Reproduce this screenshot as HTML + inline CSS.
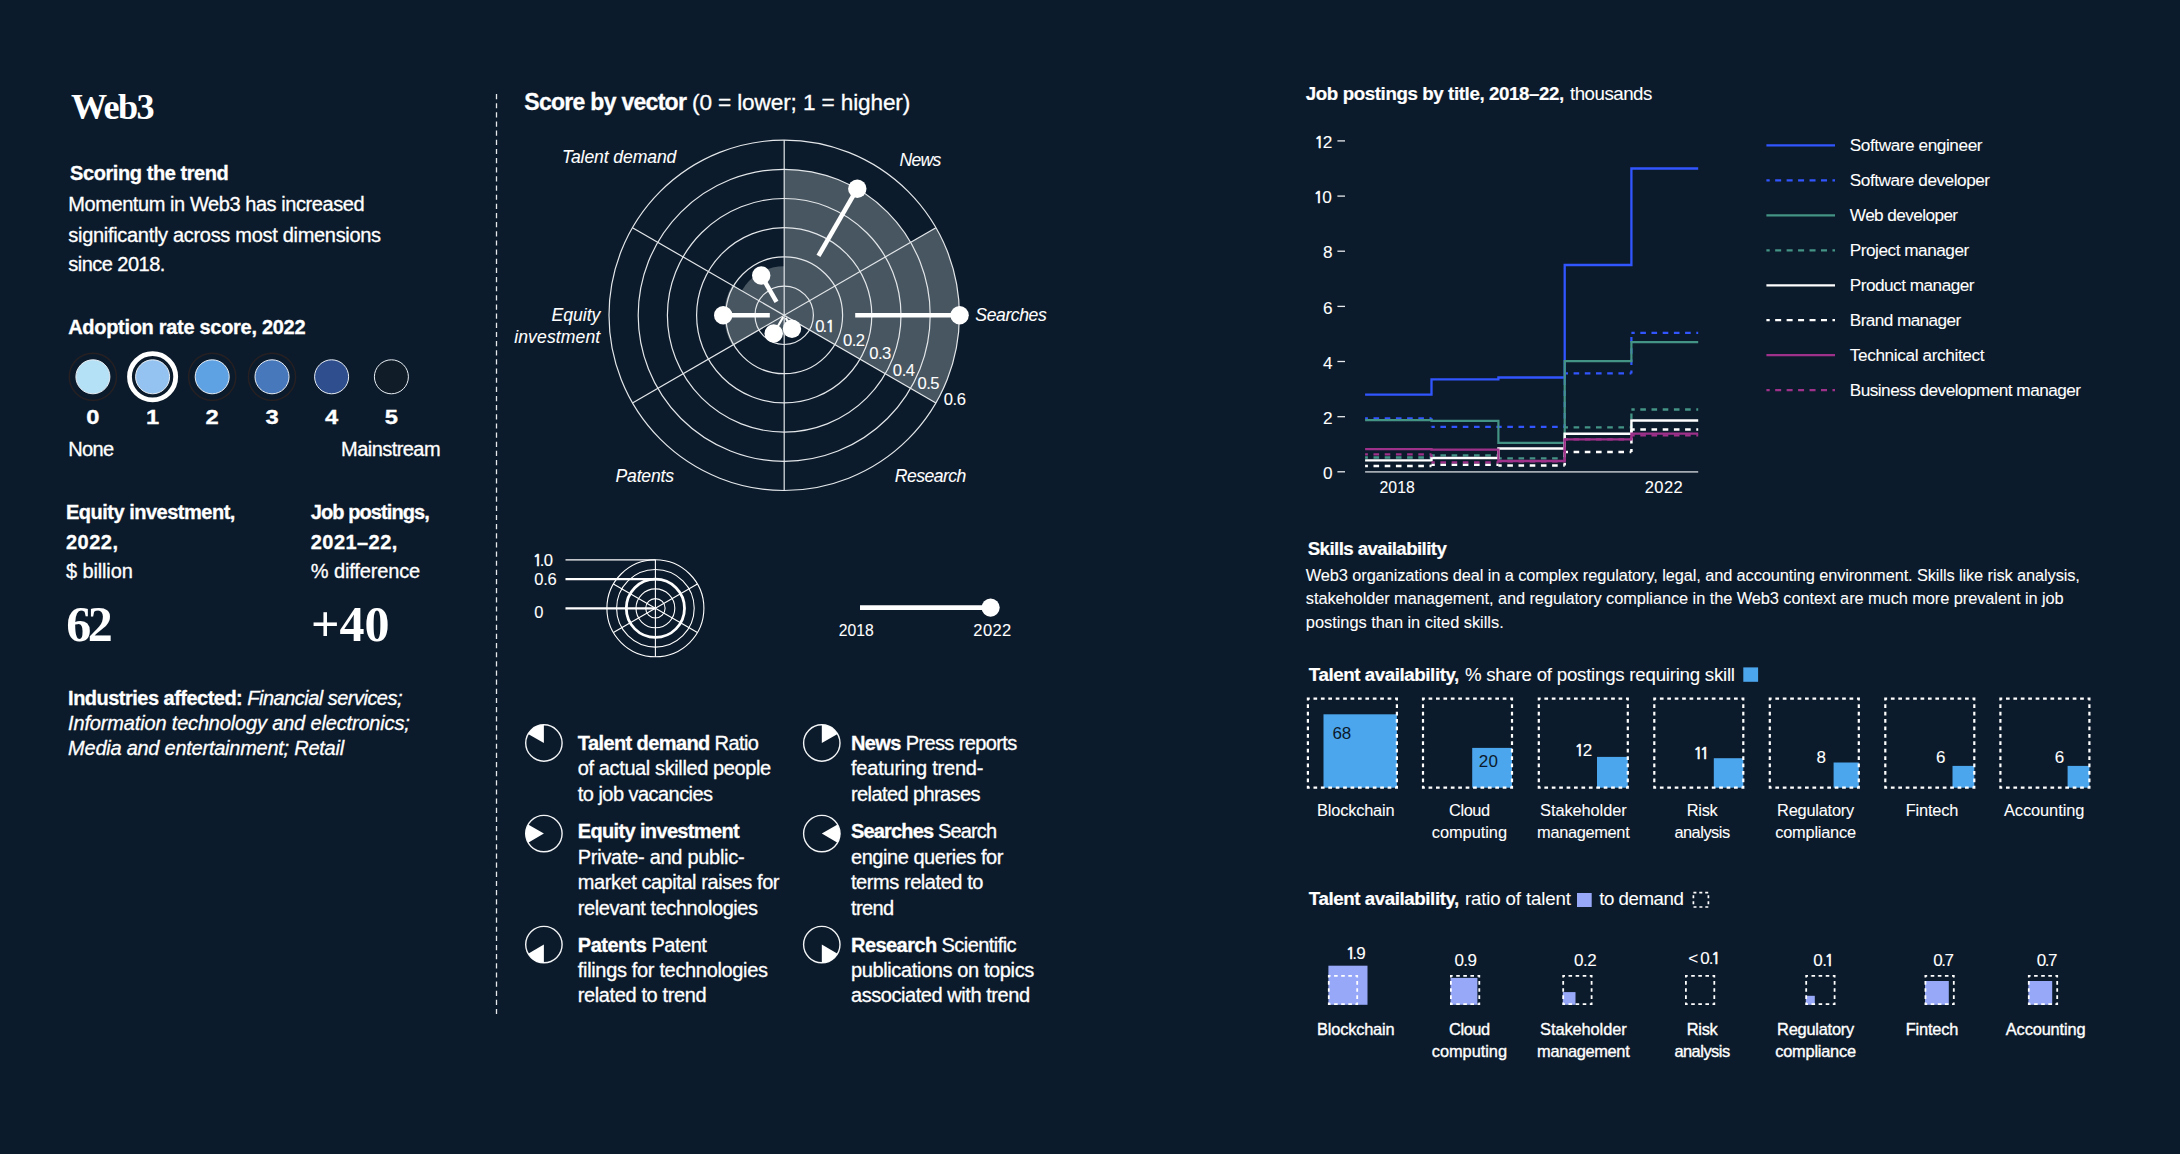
<!DOCTYPE html>
<html lang="en"><head><meta charset="utf-8"><title>Web3</title>
<style>
html,body{margin:0;padding:0;background:#0c1b2b;}
body{width:2180px;height:1154px;overflow:hidden;font-family:"Liberation Sans",sans-serif;}
svg{display:block}
</style></head><body>
<svg width="2180" height="1154" viewBox="0 0 2180 1154">
<rect width="2180" height="1154" fill="#0c1b2b"/>
<g fill="#fff">
<text x="71.0" y="118.5" font-family='"Liberation Serif", serif' font-size="36.2" font-weight="700" textLength="83.5" lengthAdjust="spacing">Web3</text>
<text x="70.1" y="180.0" font-family='"Liberation Sans", sans-serif' font-size="20" font-weight="700" textLength="158.7" lengthAdjust="spacing" stroke="#fff" stroke-width="0.3">Scoring the trend</text>
<text x="68.3" y="211.1" font-family='"Liberation Sans", sans-serif' font-size="20" font-weight="400" textLength="296.3" lengthAdjust="spacing" stroke="#fff" stroke-width="0.3">Momentum in Web3 has increased</text>
<text x="68.3" y="242.1" font-family='"Liberation Sans", sans-serif' font-size="20" font-weight="400" textLength="312.8" lengthAdjust="spacing" stroke="#fff" stroke-width="0.3">significantly across most dimensions</text>
<text x="68.3" y="271.0" font-family='"Liberation Sans", sans-serif' font-size="20" font-weight="400" textLength="97.0" lengthAdjust="spacing" stroke="#fff" stroke-width="0.3">since 2018.</text>
<text x="68.2" y="333.9" font-family='"Liberation Sans", sans-serif' font-size="20" font-weight="700" textLength="237.3" lengthAdjust="spacing" stroke="#fff" stroke-width="0.3">Adoption rate score, 2022</text>
<circle cx="92.9" cy="376.8" r="23.6" fill="none" stroke="#262022" stroke-width="1.4"/>
<circle cx="92.9" cy="376.8" r="17.0" fill="#b4e1f5" stroke="#e8eef5" stroke-width="1"/>
<text x="86.3" y="424.3" font-family='"Liberation Sans", sans-serif' font-size="19.6" font-weight="700" textLength="13.2" lengthAdjust="spacingAndGlyphs" stroke="#fff" stroke-width="0.3">0</text>
<circle cx="152.6" cy="376.8" r="23.1" fill="none" stroke="#fff" stroke-width="4.8"/>
<circle cx="152.6" cy="376.8" r="17.0" fill="#94c3f2" stroke="#e8eef5" stroke-width="1"/>
<text x="146.0" y="424.3" font-family='"Liberation Sans", sans-serif' font-size="19.6" font-weight="700" textLength="13.2" lengthAdjust="spacingAndGlyphs" stroke="#fff" stroke-width="0.3">1</text>
<circle cx="212.2" cy="376.8" r="23.6" fill="none" stroke="#262022" stroke-width="1.4"/>
<circle cx="212.2" cy="376.8" r="17.0" fill="#5ea2e4" stroke="#e8eef5" stroke-width="1"/>
<text x="205.6" y="424.3" font-family='"Liberation Sans", sans-serif' font-size="19.6" font-weight="700" textLength="13.2" lengthAdjust="spacingAndGlyphs" stroke="#fff" stroke-width="0.3">2</text>
<circle cx="272.0" cy="376.8" r="23.6" fill="none" stroke="#262022" stroke-width="1.4"/>
<circle cx="272.0" cy="376.8" r="17.0" fill="#4878bc" stroke="#e8eef5" stroke-width="1"/>
<text x="265.4" y="424.3" font-family='"Liberation Sans", sans-serif' font-size="19.6" font-weight="700" textLength="13.2" lengthAdjust="spacingAndGlyphs" stroke="#fff" stroke-width="0.3">3</text>
<circle cx="331.6" cy="376.8" r="17.0" fill="#2e4e8e" stroke="#e8eef5" stroke-width="1"/>
<text x="325.0" y="424.3" font-family='"Liberation Sans", sans-serif' font-size="19.6" font-weight="700" textLength="13.2" lengthAdjust="spacingAndGlyphs" stroke="#fff" stroke-width="0.3">4</text>
<circle cx="391.4" cy="376.8" r="17.0" fill="#101d28" stroke="#e8eef5" stroke-width="1"/>
<text x="384.8" y="424.3" font-family='"Liberation Sans", sans-serif' font-size="19.6" font-weight="700" textLength="13.2" lengthAdjust="spacingAndGlyphs" stroke="#fff" stroke-width="0.3">5</text>
<text x="68.3" y="456.1" font-family='"Liberation Sans", sans-serif' font-size="20" font-weight="400" textLength="45.8" lengthAdjust="spacing" stroke="#fff" stroke-width="0.3">None</text>
<text x="341.1" y="456.1" font-family='"Liberation Sans", sans-serif' font-size="20" font-weight="400" textLength="99.5" lengthAdjust="spacing" stroke="#fff" stroke-width="0.3">Mainstream</text>
<text x="66.0" y="518.5" font-family='"Liberation Sans", sans-serif' font-size="20" font-weight="700" textLength="169.4" lengthAdjust="spacing" stroke="#fff" stroke-width="0.3">Equity investment,</text>
<text x="66.0" y="548.9" font-family='"Liberation Sans", sans-serif' font-size="20" font-weight="700" textLength="52.0" lengthAdjust="spacing" stroke="#fff" stroke-width="0.3">2022,</text>
<text x="66.0" y="578.2" font-family='"Liberation Sans", sans-serif' font-size="20" font-weight="400" textLength="66.8" lengthAdjust="spacing" stroke="#fff" stroke-width="0.3">$ billion</text>
<text x="66.3" y="641.1" font-family='"Liberation Serif", serif' font-size="50" font-weight="700" textLength="46.5" lengthAdjust="spacing">62</text>
<text x="310.8" y="518.5" font-family='"Liberation Sans", sans-serif' font-size="20" font-weight="700" textLength="119.0" lengthAdjust="spacing" stroke="#fff" stroke-width="0.3">Job postings,</text>
<text x="310.8" y="548.9" font-family='"Liberation Sans", sans-serif' font-size="20" font-weight="700" textLength="86.5" lengthAdjust="spacing" stroke="#fff" stroke-width="0.3">2021–22,</text>
<text x="310.8" y="578.2" font-family='"Liberation Sans", sans-serif' font-size="20" font-weight="400" textLength="109.4" lengthAdjust="spacing" stroke="#fff" stroke-width="0.3">% difference</text>
<text x="311.0" y="641.1" font-family='"Liberation Serif", serif' font-size="50" font-weight="700" textLength="78.5" lengthAdjust="spacing">+40</text>
<text x="68.1" y="704.5" font-family='"Liberation Sans", sans-serif' font-size="20" xml:space="preserve" stroke="#fff" stroke-width="0.3" textLength="334.4" lengthAdjust="spacing"><tspan font-weight="700" font-style="normal">Industries affected: </tspan><tspan font-weight="400" font-style="italic">Financial services;</tspan></text>
<text x="68.1" y="729.6" font-family='"Liberation Sans", sans-serif' font-size="20" font-weight="400" font-style="italic" textLength="341.7" lengthAdjust="spacing" stroke="#fff" stroke-width="0.3">Information technology and electronics;</text>
<text x="68.1" y="754.7" font-family='"Liberation Sans", sans-serif' font-size="20" font-weight="400" font-style="italic" textLength="276.0" lengthAdjust="spacing" stroke="#fff" stroke-width="0.3">Media and entertainment; Retail</text>
<line x1="496.5" y1="94" x2="496.5" y2="1014" stroke="#e6e9ec" stroke-width="1.3" stroke-dasharray="5.2 3.95"/>
<text x="524.3" y="109.9" font-family='"Liberation Sans", sans-serif' font-size="23" font-weight="700" textLength="162.6" lengthAdjust="spacing" stroke="#fff" stroke-width="0.3">Score by vector</text>
<text x="692.0" y="109.9" font-family='"Liberation Sans", sans-serif' font-size="22.6" font-weight="400" textLength="218.3" lengthAdjust="spacing" stroke="#fff" stroke-width="0.3">(0 = lower; 1 = higher)</text>
<path d="M784.20 315.30L910.64 242.30A146.00 146.00 0 0 0 784.20 169.30Z" fill="#485661"/>
<path d="M784.20 315.30L935.93 402.90A175.20 175.20 0 0 0 935.93 227.70Z" fill="#485661"/>
<path d="M784.20 315.30L784.20 266.30A49.00 49.00 0 0 0 741.76 290.80Z" fill="#485661"/>
<path d="M784.20 315.30L732.24 285.30A60.00 60.00 0 0 0 732.24 345.30Z" fill="#485661"/>
<path d="M784.20 315.30L766.88 325.30A20.00 20.00 0 0 0 784.20 335.30Z" fill="#485661"/>
<path d="M784.20 315.30L784.20 330.30A15.00 15.00 0 0 0 797.19 322.80Z" fill="#485661"/>
<circle cx="784.2" cy="315.3" r="29.20" fill="none" stroke="#e3e7ea" stroke-width="1.2"/>
<circle cx="784.2" cy="315.3" r="58.40" fill="none" stroke="#e3e7ea" stroke-width="1.2"/>
<circle cx="784.2" cy="315.3" r="87.60" fill="none" stroke="#e3e7ea" stroke-width="1.2"/>
<circle cx="784.2" cy="315.3" r="116.80" fill="none" stroke="#e3e7ea" stroke-width="1.2"/>
<circle cx="784.2" cy="315.3" r="146.00" fill="none" stroke="#e3e7ea" stroke-width="1.2"/>
<circle cx="784.2" cy="315.3" r="175.20" fill="none" stroke="#e3e7ea" stroke-width="1.2"/>
<line x1="784.20" y1="140.10" x2="784.20" y2="490.50" stroke="#e3e7ea" stroke-width="1.2"/>
<line x1="935.93" y1="227.70" x2="632.47" y2="402.90" stroke="#e3e7ea" stroke-width="1.2"/>
<line x1="935.93" y1="402.90" x2="632.47" y2="227.70" stroke="#e3e7ea" stroke-width="1.2"/>
<line x1="818.45" y1="255.98" x2="857.30" y2="188.69" stroke="#fff" stroke-width="4.5"/>
<circle cx="857.30" cy="188.69" r="9.2" fill="#fff"/>
<line x1="855.20" y1="315.30" x2="959.60" y2="315.30" stroke="#fff" stroke-width="4.5"/>
<circle cx="959.60" cy="315.30" r="9.2" fill="#fff"/>
<line x1="776.50" y1="301.96" x2="761.20" y2="275.46" stroke="#fff" stroke-width="4.5"/>
<circle cx="761.20" cy="275.46" r="9.2" fill="#fff"/>
<line x1="769.80" y1="315.30" x2="723.20" y2="315.30" stroke="#fff" stroke-width="4.5"/>
<circle cx="723.20" cy="315.30" r="9.2" fill="#fff"/>
<line x1="783.20" y1="317.03" x2="773.70" y2="333.49" stroke="#fff" stroke-width="2.2"/>
<circle cx="773.70" cy="333.49" r="9.2" fill="#fff"/>
<line x1="785.70" y1="317.90" x2="792.00" y2="328.81" stroke="#fff" stroke-width="2.2"/>
<circle cx="792.00" cy="328.81" r="9.2" fill="#fff"/>
<text y="331.7" font-size="16.6" font-family='"Liberation Sans", sans-serif' stroke="#fff" stroke-width="0.1"><tspan x="815.15">0</tspan><tspan x="822.38">.</tspan><tspan x="825.38" font-family='"NanumGothic", "Liberation Sans", sans-serif' font-size="15.60" stroke-width="0.7">1</tspan></text>
<text x="842.9" y="345.5" font-family='"Liberation Sans", sans-serif' font-size="16.6" font-weight="400" textLength="22.1" lengthAdjust="spacing" stroke="#fff" stroke-width="0.08">0.2</text>
<text x="869.2" y="359.2" font-family='"Liberation Sans", sans-serif' font-size="16.6" font-weight="400" textLength="22.0" lengthAdjust="spacing" stroke="#fff" stroke-width="0.08">0.3</text>
<text x="892.8" y="375.9" font-family='"Liberation Sans", sans-serif' font-size="16.6" font-weight="400" textLength="22.3" lengthAdjust="spacing" stroke="#fff" stroke-width="0.08">0.4</text>
<text x="917.5" y="389.3" font-family='"Liberation Sans", sans-serif' font-size="16.6" font-weight="400" textLength="22.0" lengthAdjust="spacing" stroke="#fff" stroke-width="0.08">0.5</text>
<text x="943.7" y="404.5" font-family='"Liberation Sans", sans-serif' font-size="16.6" font-weight="400" textLength="22.3" lengthAdjust="spacing" stroke="#fff" stroke-width="0.08">0.6</text>
<text x="561.9" y="163.0" font-family='"Liberation Sans", sans-serif' font-size="17.6" font-weight="400" font-style="italic" textLength="114.5" lengthAdjust="spacing" stroke="#fff" stroke-width="0.08">Talent demand</text>
<text x="899.4" y="165.9" font-family='"Liberation Sans", sans-serif' font-size="17.6" font-weight="400" font-style="italic" textLength="42.0" lengthAdjust="spacing" stroke="#fff" stroke-width="0.08">News</text>
<text x="975.3" y="321.3" font-family='"Liberation Sans", sans-serif' font-size="17.6" font-weight="400" font-style="italic" textLength="71.5" lengthAdjust="spacing" stroke="#fff" stroke-width="0.08">Searches</text>
<text x="894.7" y="482.1" font-family='"Liberation Sans", sans-serif' font-size="17.6" font-weight="400" font-style="italic" textLength="71.7" lengthAdjust="spacing" stroke="#fff" stroke-width="0.08">Research</text>
<text x="615.5" y="482.1" font-family='"Liberation Sans", sans-serif' font-size="17.6" font-weight="400" font-style="italic" textLength="58.5" lengthAdjust="spacing" stroke="#fff" stroke-width="0.08">Patents</text>
<text x="551.6" y="320.7" font-family='"Liberation Sans", sans-serif' font-size="17.6" font-weight="400" font-style="italic" textLength="48.7" lengthAdjust="spacing" stroke="#fff" stroke-width="0.08">Equity</text>
<text x="514.2" y="342.9" font-family='"Liberation Sans", sans-serif' font-size="17.6" font-weight="400" font-style="italic" textLength="86.0" lengthAdjust="spacing" stroke="#fff" stroke-width="0.08">investment</text>
<circle cx="655.4" cy="608.3" r="9.7" fill="none" stroke="#fff" stroke-width="1.1"/>
<circle cx="655.4" cy="608.3" r="19.4" fill="none" stroke="#fff" stroke-width="1.1"/>
<circle cx="655.4" cy="608.3" r="29.1" fill="none" stroke="#fff" stroke-width="2.8"/>
<circle cx="655.4" cy="608.3" r="38.8" fill="none" stroke="#fff" stroke-width="1.1"/>
<circle cx="655.4" cy="608.3" r="48.5" fill="none" stroke="#fff" stroke-width="1.1"/>
<line x1="655.40" y1="559.80" x2="655.40" y2="656.80" stroke="#fff" stroke-width="1.1"/>
<line x1="697.40" y1="584.05" x2="613.40" y2="632.55" stroke="#fff" stroke-width="1.1"/>
<line x1="697.40" y1="632.55" x2="613.40" y2="584.05" stroke="#fff" stroke-width="1.1"/>
<line x1="565.5" y1="559.8" x2="655.4" y2="559.8" stroke="#fff" stroke-width="1.2"/>
<line x1="565.5" y1="579.2" x2="655.4" y2="579.2" stroke="#fff" stroke-width="2.2"/>
<line x1="565.5" y1="608.3" x2="655.4" y2="608.3" stroke="#fff" stroke-width="2.2"/>
<text y="566.0" font-size="16.6" font-family='"Liberation Sans", sans-serif' stroke="#fff" stroke-width="0.1"><tspan x="532.78" font-family='"NanumGothic", "Liberation Sans", sans-serif' font-size="15.60" stroke-width="0.7">1</tspan><tspan x="539.78">.</tspan><tspan x="543.75">0</tspan></text>
<text x="534.2" y="585.2" font-family='"Liberation Sans", sans-serif' font-size="16.5" font-weight="400" textLength="22.5" lengthAdjust="spacing" stroke="#fff" stroke-width="0.08">0.6</text>
<text x="534.2" y="617.8" font-family='"Liberation Sans", sans-serif' font-size="16.5" font-weight="400" stroke="#fff" stroke-width="0.08">0</text>
<line x1="860" y1="607.6" x2="990.6" y2="607.6" stroke="#fff" stroke-width="4.6"/>
<circle cx="990.6" cy="607.6" r="9.1" fill="#fff"/>
<text x="838.8" y="636.0" font-family='"Liberation Sans", sans-serif' font-size="16.5" font-weight="400" textLength="35.0" lengthAdjust="spacingAndGlyphs" stroke="#fff" stroke-width="0.08">2018</text>
<text x="973.3" y="636.0" font-family='"Liberation Sans", sans-serif' font-size="16.5" font-weight="400" textLength="38.0" lengthAdjust="spacing" stroke="#fff" stroke-width="0.08">2022</text>
<circle cx="543.9" cy="743.0" r="18.2" fill="none" stroke="#f2f4f6" stroke-width="1.4"/>
<path d="M543.90 743.00L543.90 724.80A18.20 18.20 0 0 0 528.14 733.90Z" fill="#fff"/>
<circle cx="543.9" cy="833.6" r="18.2" fill="none" stroke="#f2f4f6" stroke-width="1.4"/>
<path d="M543.90 833.60L528.14 824.50A18.20 18.20 0 0 0 528.14 842.70Z" fill="#fff"/>
<circle cx="543.9" cy="944.6" r="18.2" fill="none" stroke="#f2f4f6" stroke-width="1.4"/>
<path d="M543.90 944.60L528.14 953.70A18.20 18.20 0 0 0 543.90 962.80Z" fill="#fff"/>
<circle cx="821.8" cy="743.0" r="18.2" fill="none" stroke="#f2f4f6" stroke-width="1.4"/>
<path d="M821.80 743.00L837.56 733.90A18.20 18.20 0 0 0 821.80 724.80Z" fill="#fff"/>
<circle cx="821.8" cy="833.6" r="18.2" fill="none" stroke="#f2f4f6" stroke-width="1.4"/>
<path d="M821.80 833.60L837.56 842.70A18.20 18.20 0 0 0 837.56 824.50Z" fill="#fff"/>
<circle cx="821.8" cy="944.6" r="18.2" fill="none" stroke="#f2f4f6" stroke-width="1.4"/>
<path d="M821.80 944.60L821.80 962.80A18.20 18.20 0 0 0 837.56 953.70Z" fill="#fff"/>
<text x="577.8" y="750.1" font-family='"Liberation Sans", sans-serif' font-size="20" xml:space="preserve" stroke="#fff" stroke-width="0.3" textLength="181.1" lengthAdjust="spacing"><tspan font-weight="700" font-style="normal">Talent demand </tspan><tspan font-weight="400" font-style="normal">Ratio</tspan></text>
<text x="577.8" y="775.2" font-family='"Liberation Sans", sans-serif' font-size="20" font-weight="400" textLength="193.4" lengthAdjust="spacing" stroke="#fff" stroke-width="0.3">of actual skilled people</text>
<text x="577.8" y="801.0" font-family='"Liberation Sans", sans-serif' font-size="20" font-weight="400" textLength="135.3" lengthAdjust="spacing" stroke="#fff" stroke-width="0.3">to job vacancies</text>
<text x="577.8" y="837.9" font-family='"Liberation Sans", sans-serif' font-size="20" font-weight="700" textLength="161.9" lengthAdjust="spacing" stroke="#fff" stroke-width="0.3">Equity investment</text>
<text x="577.8" y="863.9" font-family='"Liberation Sans", sans-serif' font-size="20" font-weight="400" textLength="166.8" lengthAdjust="spacing" stroke="#fff" stroke-width="0.3">Private- and public-</text>
<text x="577.8" y="889.4" font-family='"Liberation Sans", sans-serif' font-size="20" font-weight="400" textLength="201.7" lengthAdjust="spacing" stroke="#fff" stroke-width="0.3">market capital raises for</text>
<text x="577.8" y="914.5" font-family='"Liberation Sans", sans-serif' font-size="20" font-weight="400" textLength="180.2" lengthAdjust="spacing" stroke="#fff" stroke-width="0.3">relevant technologies</text>
<text x="577.8" y="951.7" font-family='"Liberation Sans", sans-serif' font-size="20" xml:space="preserve" stroke="#fff" stroke-width="0.3" textLength="129.0" lengthAdjust="spacing"><tspan font-weight="700" font-style="normal">Patents </tspan><tspan font-weight="400" font-style="normal">Patent</tspan></text>
<text x="577.8" y="976.9" font-family='"Liberation Sans", sans-serif' font-size="20" font-weight="400" textLength="190.2" lengthAdjust="spacing" stroke="#fff" stroke-width="0.3">filings for technologies</text>
<text x="577.8" y="1002.3" font-family='"Liberation Sans", sans-serif' font-size="20" font-weight="400" textLength="128.7" lengthAdjust="spacing" stroke="#fff" stroke-width="0.3">related to trend</text>
<text x="851.0" y="750.1" font-family='"Liberation Sans", sans-serif' font-size="20" xml:space="preserve" stroke="#fff" stroke-width="0.3" textLength="166.2" lengthAdjust="spacing"><tspan font-weight="700" font-style="normal">News </tspan><tspan font-weight="400" font-style="normal">Press reports</tspan></text>
<text x="851.0" y="775.2" font-family='"Liberation Sans", sans-serif' font-size="20" font-weight="400" textLength="132.4" lengthAdjust="spacing" stroke="#fff" stroke-width="0.3">featuring trend-</text>
<text x="851.0" y="801.0" font-family='"Liberation Sans", sans-serif' font-size="20" font-weight="400" textLength="129.5" lengthAdjust="spacing" stroke="#fff" stroke-width="0.3">related phrases</text>
<text x="851.0" y="837.9" font-family='"Liberation Sans", sans-serif' font-size="20" xml:space="preserve" stroke="#fff" stroke-width="0.3" textLength="146.1" lengthAdjust="spacing"><tspan font-weight="700" font-style="normal">Searches </tspan><tspan font-weight="400" font-style="normal">Search</tspan></text>
<text x="851.0" y="863.9" font-family='"Liberation Sans", sans-serif' font-size="20" font-weight="400" textLength="152.4" lengthAdjust="spacing" stroke="#fff" stroke-width="0.3">engine queries for</text>
<text x="851.0" y="889.4" font-family='"Liberation Sans", sans-serif' font-size="20" font-weight="400" textLength="132.4" lengthAdjust="spacing" stroke="#fff" stroke-width="0.3">terms related to</text>
<text x="851.0" y="914.5" font-family='"Liberation Sans", sans-serif' font-size="20" font-weight="400" textLength="43.2" lengthAdjust="spacing" stroke="#fff" stroke-width="0.3">trend</text>
<text x="851.0" y="951.7" font-family='"Liberation Sans", sans-serif' font-size="20" xml:space="preserve" stroke="#fff" stroke-width="0.3" textLength="165.6" lengthAdjust="spacing"><tspan font-weight="700" font-style="normal">Research </tspan><tspan font-weight="400" font-style="normal">Scientific</tspan></text>
<text x="851.0" y="976.9" font-family='"Liberation Sans", sans-serif' font-size="20" font-weight="400" textLength="183.3" lengthAdjust="spacing" stroke="#fff" stroke-width="0.3">publications on topics</text>
<text x="851.0" y="1002.3" font-family='"Liberation Sans", sans-serif' font-size="20" font-weight="400" textLength="179.0" lengthAdjust="spacing" stroke="#fff" stroke-width="0.3">associated with trend</text>
<text x="1305.8" y="100.3" font-family='"Liberation Sans", sans-serif' font-size="18.7" font-weight="700" textLength="258.5" lengthAdjust="spacing" stroke="#fff" stroke-width="0.2">Job postings by title, 2018–22,</text>
<text x="1570.0" y="100.3" font-family='"Liberation Sans", sans-serif' font-size="18.7" font-weight="400" textLength="82.3" lengthAdjust="spacing" stroke="#fff" stroke-width="0.08">thousands</text>
<line x1="1337.4" y1="471.8" x2="1345" y2="471.8" stroke="#e8ebee" stroke-width="1.3"/>
<text x="1332.6" y="478.9" font-family='"Liberation Sans", sans-serif' font-size="17.2" font-weight="400" text-anchor="end" stroke="#fff" stroke-width="0.08">0</text>
<line x1="1337.4" y1="416.7" x2="1345" y2="416.7" stroke="#e8ebee" stroke-width="1.3"/>
<text x="1332.6" y="423.8" font-family='"Liberation Sans", sans-serif' font-size="17.2" font-weight="400" text-anchor="end" stroke="#fff" stroke-width="0.08">2</text>
<line x1="1337.4" y1="361.5" x2="1345" y2="361.5" stroke="#e8ebee" stroke-width="1.3"/>
<text x="1332.6" y="368.6" font-family='"Liberation Sans", sans-serif' font-size="17.2" font-weight="400" text-anchor="end" stroke="#fff" stroke-width="0.08">4</text>
<line x1="1337.4" y1="306.4" x2="1345" y2="306.4" stroke="#e8ebee" stroke-width="1.3"/>
<text x="1332.6" y="313.5" font-family='"Liberation Sans", sans-serif' font-size="17.2" font-weight="400" text-anchor="end" stroke="#fff" stroke-width="0.08">6</text>
<line x1="1337.4" y1="251.2" x2="1345" y2="251.2" stroke="#e8ebee" stroke-width="1.3"/>
<text x="1332.6" y="258.3" font-family='"Liberation Sans", sans-serif' font-size="17.2" font-weight="400" text-anchor="end" stroke="#fff" stroke-width="0.08">8</text>
<line x1="1337.4" y1="196.1" x2="1345" y2="196.1" stroke="#e8ebee" stroke-width="1.3"/>
<text y="203.2" font-size="17.2" font-family='"Liberation Sans", sans-serif' stroke="#fff" stroke-width="0.1"><tspan x="1313.60" font-family='"NanumGothic", "Liberation Sans", sans-serif' font-size="16.17" stroke-width="0.7">1</tspan><tspan x="1322.13">0</tspan></text>
<line x1="1337.4" y1="140.9" x2="1345" y2="140.9" stroke="#e8ebee" stroke-width="1.3"/>
<text y="148.0" font-size="17.2" font-family='"Liberation Sans", sans-serif' stroke="#fff" stroke-width="0.1"><tspan x="1314.30" font-family='"NanumGothic", "Liberation Sans", sans-serif' font-size="16.17" stroke-width="0.7">1</tspan><tspan x="1322.63">2</tspan></text>
<line x1="1365.1" y1="471.8" x2="1698.2" y2="471.8" stroke="#a4abb3" stroke-width="1.7"/>
<text x="1379.6" y="493.3" font-family='"Liberation Sans", sans-serif' font-size="16.5" font-weight="400" textLength="35.1" lengthAdjust="spacingAndGlyphs" stroke="#fff" stroke-width="0.08">2018</text>
<text x="1644.7" y="493.3" font-family='"Liberation Sans", sans-serif' font-size="16.5" font-weight="400" textLength="38.1" lengthAdjust="spacing" stroke="#fff" stroke-width="0.08">2022</text>
<path d="M1365.1 394.6H1431.5V379.4H1498.4V377.5H1564.7V265.0H1631.4V168.5H1698.2" fill="none" stroke="#3156ff" stroke-width="2.3"/>
<g fill="none" stroke="#3156ff" stroke-width="2.2" stroke-dasharray="5.6 5.6">
<path d="M1365.1 418.3H1431.5" stroke-dashoffset="2.8"/>
<path d="M1431.5 418.3V426.9" stroke-dashoffset="2.8"/>
<path d="M1431.5 426.9H1498.4" stroke-dashoffset="2.3"/>
<path d="M1498.4 426.9V426.9" stroke-dashoffset="2.8"/>
<path d="M1498.4 426.9H1564.7" stroke-dashoffset="2.3"/>
<path d="M1564.7 426.9V373.4" stroke-dashoffset="2.8"/>
<path d="M1564.7 373.4H1631.4" stroke-dashoffset="2.3"/>
<path d="M1631.4 373.4V332.8" stroke-dashoffset="2.8"/>
<path d="M1631.4 332.8H1698.2" stroke-dashoffset="2.3"/>
</g>
<path d="M1365.1 420.2H1431.5V420.9H1498.4V442.8H1564.7V361.2H1631.4V342.2H1698.2" fill="none" stroke="#449486" stroke-width="2.2"/>
<g fill="none" stroke="#449486" stroke-width="2.3" stroke-dasharray="5.6 5.6">
<path d="M1365.1 457.5H1431.5" stroke-dashoffset="2.8"/>
<path d="M1431.5 457.5V455.3" stroke-dashoffset="2.8"/>
<path d="M1431.5 455.3H1498.4" stroke-dashoffset="2.3"/>
<path d="M1498.4 455.3V458.3" stroke-dashoffset="2.8"/>
<path d="M1498.4 458.3H1564.7" stroke-dashoffset="2.3"/>
<path d="M1564.7 458.3V427.4" stroke-dashoffset="2.8"/>
<path d="M1564.7 427.4H1631.4" stroke-dashoffset="2.3"/>
<path d="M1631.4 427.4V409.5" stroke-dashoffset="2.8"/>
<path d="M1631.4 409.5H1698.2" stroke-dashoffset="2.3"/>
</g>
<path d="M1365.1 460.4H1431.5V458.0H1498.4V448.5H1564.7V433.7H1631.4V420.5H1698.2" fill="none" stroke="#fff" stroke-width="2.4"/>
<g fill="none" stroke="#fff" stroke-width="2.5" stroke-dasharray="5.6 5.6">
<path d="M1365.1 465.9H1431.5" stroke-dashoffset="2.8"/>
<path d="M1431.5 465.9V464.7" stroke-dashoffset="2.8"/>
<path d="M1431.5 464.7H1498.4" stroke-dashoffset="2.3"/>
<path d="M1498.4 464.7V465.5" stroke-dashoffset="2.8"/>
<path d="M1498.4 465.5H1564.7" stroke-dashoffset="2.3"/>
<path d="M1564.7 465.5V451.9" stroke-dashoffset="2.8"/>
<path d="M1564.7 451.9H1631.4" stroke-dashoffset="2.3"/>
<path d="M1631.4 451.9V429.6" stroke-dashoffset="2.8"/>
<path d="M1631.4 429.6H1698.2" stroke-dashoffset="2.3"/>
</g>
<path d="M1365.1 449.1H1431.5V449.7H1498.4V461.0H1564.7V439.3H1631.4V433.7H1698.2" fill="none" stroke="#9e318a" stroke-width="2.3"/>
<g fill="none" stroke="#9e318a" stroke-width="2.3" stroke-dasharray="5.6 5.6">
<path d="M1365.1 454.4H1431.5" stroke-dashoffset="2.8"/>
<path d="M1431.5 454.4V462.3" stroke-dashoffset="2.8"/>
<path d="M1431.5 462.3H1498.4" stroke-dashoffset="2.3"/>
<path d="M1498.4 462.3V461.3" stroke-dashoffset="2.8"/>
<path d="M1498.4 461.3H1564.7" stroke-dashoffset="2.3"/>
<path d="M1564.7 461.3V439.3" stroke-dashoffset="2.8"/>
<path d="M1564.7 439.3H1631.4" stroke-dashoffset="2.3"/>
<path d="M1631.4 439.3V435.4" stroke-dashoffset="2.8"/>
<path d="M1631.4 435.4H1698.2" stroke-dashoffset="2.3"/>
</g>
<line x1="1766.4" y1="145.4" x2="1835" y2="145.4" stroke="#3156ff" stroke-width="2.3"/>
<text x="1849.8" y="150.8" font-family='"Liberation Sans", sans-serif' font-size="17.2" font-weight="400" textLength="132.7" lengthAdjust="spacing" stroke="#fff" stroke-width="0.08">Software engineer</text>
<line x1="1766.4" y1="180.4" x2="1835" y2="180.4" stroke="#3156ff" stroke-width="2.3" stroke-dasharray="6 5.46" stroke-dashoffset="2.7"/>
<text x="1849.8" y="185.8" font-family='"Liberation Sans", sans-serif' font-size="17.2" font-weight="400" textLength="140.3" lengthAdjust="spacing" stroke="#fff" stroke-width="0.08">Software developer</text>
<line x1="1766.4" y1="215.3" x2="1835" y2="215.3" stroke="#449486" stroke-width="2.3"/>
<text x="1849.8" y="220.7" font-family='"Liberation Sans", sans-serif' font-size="17.2" font-weight="400" textLength="108.3" lengthAdjust="spacing" stroke="#fff" stroke-width="0.08">Web developer</text>
<line x1="1766.4" y1="250.3" x2="1835" y2="250.3" stroke="#449486" stroke-width="2.3" stroke-dasharray="6 5.46" stroke-dashoffset="2.7"/>
<text x="1849.8" y="255.7" font-family='"Liberation Sans", sans-serif' font-size="17.2" font-weight="400" textLength="119.4" lengthAdjust="spacing" stroke="#fff" stroke-width="0.08">Project manager</text>
<line x1="1766.4" y1="285.3" x2="1835" y2="285.3" stroke="#fff" stroke-width="2.3"/>
<text x="1849.8" y="290.7" font-family='"Liberation Sans", sans-serif' font-size="17.2" font-weight="400" textLength="124.7" lengthAdjust="spacing" stroke="#fff" stroke-width="0.08">Product manager</text>
<line x1="1766.4" y1="320.2" x2="1835" y2="320.2" stroke="#fff" stroke-width="2.3" stroke-dasharray="6 5.46" stroke-dashoffset="2.7"/>
<text x="1849.8" y="325.6" font-family='"Liberation Sans", sans-serif' font-size="17.2" font-weight="400" textLength="111.4" lengthAdjust="spacing" stroke="#fff" stroke-width="0.08">Brand manager</text>
<line x1="1766.4" y1="355.2" x2="1835" y2="355.2" stroke="#9e318a" stroke-width="2.3"/>
<text x="1849.8" y="360.6" font-family='"Liberation Sans", sans-serif' font-size="17.2" font-weight="400" textLength="134.7" lengthAdjust="spacing" stroke="#fff" stroke-width="0.08">Technical architect</text>
<line x1="1766.4" y1="390.2" x2="1835" y2="390.2" stroke="#9e318a" stroke-width="2.3" stroke-dasharray="6 5.46" stroke-dashoffset="2.7"/>
<text x="1849.8" y="395.6" font-family='"Liberation Sans", sans-serif' font-size="17.2" font-weight="400" textLength="231.2" lengthAdjust="spacing" stroke="#fff" stroke-width="0.08">Business development manager</text>
<text x="1307.7" y="554.6" font-family='"Liberation Sans", sans-serif' font-size="18.7" font-weight="700" textLength="139.2" lengthAdjust="spacing" stroke="#fff" stroke-width="0.2">Skills availability</text>
<text x="1305.8" y="580.7" font-family='"Liberation Sans", sans-serif' font-size="16.4" font-weight="400" textLength="774.1" lengthAdjust="spacing" stroke="#fff" stroke-width="0.08">Web3 organizations deal in a complex regulatory, legal, and accounting environment. Skills like risk analysis,</text>
<text x="1305.8" y="604.4" font-family='"Liberation Sans", sans-serif' font-size="16.4" font-weight="400" textLength="757.9" lengthAdjust="spacing" stroke="#fff" stroke-width="0.08">stakeholder management, and regulatory compliance in the Web3 context are much more prevalent in job</text>
<text x="1305.8" y="628.1" font-family='"Liberation Sans", sans-serif' font-size="16.4" font-weight="400" textLength="197.9" lengthAdjust="spacing" stroke="#fff" stroke-width="0.08">postings than in cited skills.</text>
<text x="1308.8" y="681.0" font-family='"Liberation Sans", sans-serif' font-size="18.7" font-weight="700" textLength="150.5" lengthAdjust="spacing" stroke="#fff" stroke-width="0.2">Talent availability,</text>
<text x="1464.9" y="681.0" font-family='"Liberation Sans", sans-serif' font-size="18.7" font-weight="400" textLength="270.1" lengthAdjust="spacing" stroke="#fff" stroke-width="0.08">% share of postings requiring skill</text>
<rect x="1743.3" y="667.4" width="14.8" height="14.4" fill="#4ca6ed"/>
<rect x="1323.5" y="714.3" width="73.4" height="73.4" fill="#4ca6ed"/>
<rect x="1307.9" y="698.7" width="89.0" height="89.0" fill="none" stroke="#fff" stroke-width="2.2" stroke-dasharray="3.7 3.7167" stroke-dashoffset="1.85"/>
<text x="1332.5" y="739.0" font-family='"Liberation Sans", sans-serif' font-size="17.0" font-weight="400" textLength="18.8" lengthAdjust="spacing" fill="#0b1a2b">68</text>
<rect x="1472.2" y="747.9" width="39.8" height="39.8" fill="#4ca6ed"/>
<rect x="1423.0" y="698.7" width="89.0" height="89.0" fill="none" stroke="#fff" stroke-width="2.2" stroke-dasharray="3.7 3.7167" stroke-dashoffset="1.85"/>
<text x="1478.8" y="767.2" font-family='"Liberation Sans", sans-serif' font-size="17.0" font-weight="400" textLength="19.2" lengthAdjust="spacing" fill="#0b1a2b">20</text>
<rect x="1597.0" y="756.9" width="30.8" height="30.8" fill="#4ca6ed"/>
<rect x="1538.8" y="698.7" width="89.0" height="89.0" fill="none" stroke="#fff" stroke-width="2.2" stroke-dasharray="3.7 3.7167" stroke-dashoffset="1.85"/>
<text y="755.9" font-size="17.0" font-family='"Liberation Sans", sans-serif' stroke="#fff" stroke-width="0.1"><tspan x="1574.53" font-family='"NanumGothic", "Liberation Sans", sans-serif' font-size="15.98" stroke-width="0.7">1</tspan><tspan x="1582.75">2</tspan></text>
<rect x="1713.8" y="758.2" width="29.5" height="29.5" fill="#4ca6ed"/>
<rect x="1654.3" y="698.7" width="89.0" height="89.0" fill="none" stroke="#fff" stroke-width="2.2" stroke-dasharray="3.7 3.7167" stroke-dashoffset="1.85"/>
<text y="759.0" font-size="17.0" font-family='"Liberation Sans", sans-serif' stroke="#fff" stroke-width="0.1"><tspan x="1693.33" font-family='"NanumGothic", "Liberation Sans", sans-serif' font-size="15.98" stroke-width="0.7">1</tspan><tspan x="1699.63" font-family='"NanumGothic", "Liberation Sans", sans-serif' font-size="15.98" stroke-width="0.7">1</tspan></text>
<rect x="1833.6" y="762.5" width="25.2" height="25.2" fill="#4ca6ed"/>
<rect x="1769.8" y="698.7" width="89.0" height="89.0" fill="none" stroke="#fff" stroke-width="2.2" stroke-dasharray="3.7 3.7167" stroke-dashoffset="1.85"/>
<text x="1816.6" y="762.8" font-family='"Liberation Sans", sans-serif' font-size="17.0" font-weight="400" stroke="#fff" stroke-width="0.08">8</text>
<rect x="1952.5" y="765.9" width="21.8" height="21.8" fill="#4ca6ed"/>
<rect x="1885.3" y="698.7" width="89.0" height="89.0" fill="none" stroke="#fff" stroke-width="2.2" stroke-dasharray="3.7 3.7167" stroke-dashoffset="1.85"/>
<text x="1935.9" y="762.8" font-family='"Liberation Sans", sans-serif' font-size="17.0" font-weight="400" stroke="#fff" stroke-width="0.08">6</text>
<rect x="2067.6" y="765.9" width="21.8" height="21.8" fill="#4ca6ed"/>
<rect x="2000.4" y="698.7" width="89.0" height="89.0" fill="none" stroke="#fff" stroke-width="2.2" stroke-dasharray="3.7 3.7167" stroke-dashoffset="1.85"/>
<text x="2054.7" y="762.8" font-family='"Liberation Sans", sans-serif' font-size="17.0" font-weight="400" stroke="#fff" stroke-width="0.08">6</text>
<text x="1317.1" y="816.2" font-family='"Liberation Sans", sans-serif' font-size="16.4" font-weight="400" textLength="77.5" lengthAdjust="spacing" stroke="#fff" stroke-width="0.08">Blockchain</text>
<text x="1449.1" y="816.2" font-family='"Liberation Sans", sans-serif' font-size="16.4" font-weight="400" textLength="41.0" lengthAdjust="spacing" stroke="#fff" stroke-width="0.08">Cloud</text>
<text x="1431.8" y="838.2" font-family='"Liberation Sans", sans-serif' font-size="16.4" font-weight="400" textLength="75.2" lengthAdjust="spacing" stroke="#fff" stroke-width="0.08">computing</text>
<text x="1540.1" y="816.2" font-family='"Liberation Sans", sans-serif' font-size="16.4" font-weight="400" textLength="86.6" lengthAdjust="spacing" stroke="#fff" stroke-width="0.08">Stakeholder</text>
<text x="1537.1" y="838.2" font-family='"Liberation Sans", sans-serif' font-size="16.4" font-weight="400" textLength="92.6" lengthAdjust="spacing" stroke="#fff" stroke-width="0.08">management</text>
<text x="1686.8" y="816.2" font-family='"Liberation Sans", sans-serif' font-size="16.4" font-weight="400" textLength="30.9" lengthAdjust="spacing" stroke="#fff" stroke-width="0.08">Risk</text>
<text x="1674.4" y="838.2" font-family='"Liberation Sans", sans-serif' font-size="16.4" font-weight="400" textLength="55.7" lengthAdjust="spacing" stroke="#fff" stroke-width="0.08">analysis</text>
<text x="1777.1" y="816.2" font-family='"Liberation Sans", sans-serif' font-size="16.4" font-weight="400" textLength="77.1" lengthAdjust="spacing" stroke="#fff" stroke-width="0.08">Regulatory</text>
<text x="1775.2" y="838.2" font-family='"Liberation Sans", sans-serif' font-size="16.4" font-weight="400" textLength="80.9" lengthAdjust="spacing" stroke="#fff" stroke-width="0.08">compliance</text>
<text x="1905.8" y="816.2" font-family='"Liberation Sans", sans-serif' font-size="16.4" font-weight="400" textLength="52.6" lengthAdjust="spacing" stroke="#fff" stroke-width="0.08">Fintech</text>
<text x="2003.9" y="816.2" font-family='"Liberation Sans", sans-serif' font-size="16.4" font-weight="400" textLength="80.5" lengthAdjust="spacing" stroke="#fff" stroke-width="0.08">Accounting</text>
<text x="1308.8" y="905.0" font-family='"Liberation Sans", sans-serif' font-size="18.7" font-weight="700" textLength="150.5" lengthAdjust="spacing" stroke="#fff" stroke-width="0.2">Talent availability,</text>
<text x="1464.9" y="905.0" font-family='"Liberation Sans", sans-serif' font-size="18.7" font-weight="400" textLength="106.1" lengthAdjust="spacing" stroke="#fff" stroke-width="0.08">ratio of talent</text>
<rect x="1577.0" y="893.0" width="14.7" height="14.0" fill="#97a8f8"/>
<text x="1599.2" y="905.0" font-family='"Liberation Sans", sans-serif' font-size="18.7" font-weight="400" textLength="84.6" lengthAdjust="spacing" stroke="#fff" stroke-width="0.08">to demand</text>
<rect x="1693.4" y="892.6" width="15.0" height="14.4" fill="none" stroke="#fff" stroke-width="1.7" stroke-dasharray="3 2.9"/>
<rect x="1328.4" y="965.7" width="39.1" height="39.1" fill="#97a8f8"/>
<rect x="1328.8" y="975.8" width="28.4" height="28.4" fill="none" stroke="#fff" stroke-width="1.8" stroke-dasharray="3.6 3.5" stroke-dashoffset="1.8"/>
<text y="958.8" font-size="17.0" font-family='"Liberation Sans", sans-serif' stroke="#fff" stroke-width="0.1"><tspan x="1345.73" font-family='"NanumGothic", "Liberation Sans", sans-serif' font-size="15.98" stroke-width="0.7">1</tspan><tspan x="1352.15">.</tspan><tspan x="1356.20">9</tspan></text>
<rect x="1450.5" y="977.9" width="26.9" height="26.9" fill="#97a8f8"/>
<rect x="1450.9" y="975.8" width="28.4" height="28.4" fill="none" stroke="#fff" stroke-width="1.8" stroke-dasharray="3.6 3.5" stroke-dashoffset="1.8"/>
<text x="1454.4" y="965.9" font-family='"Liberation Sans", sans-serif' font-size="17.0" font-weight="400" textLength="22.6" lengthAdjust="spacing" stroke="#fff" stroke-width="0.08">0.9</text>
<rect x="1562.8" y="992.1" width="12.7" height="12.7" fill="#97a8f8"/>
<rect x="1563.2" y="975.8" width="28.4" height="28.4" fill="none" stroke="#fff" stroke-width="1.8" stroke-dasharray="3.6 3.5" stroke-dashoffset="1.8"/>
<text x="1574.0" y="965.9" font-family='"Liberation Sans", sans-serif' font-size="17.0" font-weight="400" textLength="22.6" lengthAdjust="spacing" stroke="#fff" stroke-width="0.08">0.2</text>
<rect x="1685.9" y="975.8" width="28.4" height="28.4" fill="none" stroke="#fff" stroke-width="1.8" stroke-dasharray="3.6 3.5" stroke-dashoffset="1.8"/>
<text y="964.2" font-size="17.0" font-family='"Liberation Sans", sans-serif' stroke="#fff" stroke-width="0.1"><tspan x="1688.36">&lt;</tspan><tspan x="1700.24">0</tspan><tspan x="1708.75">.</tspan><tspan x="1710.93" font-family='"NanumGothic", "Liberation Sans", sans-serif' font-size="15.98" stroke-width="0.7">1</tspan></text>
<rect x="1805.8" y="995.8" width="9.0" height="9.0" fill="#97a8f8"/>
<rect x="1806.2" y="975.8" width="28.4" height="28.4" fill="none" stroke="#fff" stroke-width="1.8" stroke-dasharray="3.6 3.5" stroke-dashoffset="1.8"/>
<text y="965.9" font-size="17.0" font-family='"Liberation Sans", sans-serif' stroke="#fff" stroke-width="0.1"><tspan x="1813.24">0</tspan><tspan x="1822.15">.</tspan><tspan x="1824.53" font-family='"NanumGothic", "Liberation Sans", sans-serif' font-size="15.98" stroke-width="0.7">1</tspan></text>
<rect x="1925.0" y="981.0" width="23.8" height="23.8" fill="#97a8f8"/>
<rect x="1925.4" y="975.8" width="28.4" height="28.4" fill="none" stroke="#fff" stroke-width="1.8" stroke-dasharray="3.6 3.5" stroke-dashoffset="1.8"/>
<text x="1933.2" y="965.9" font-family='"Liberation Sans", sans-serif' font-size="17.0" font-weight="400" textLength="20.7" lengthAdjust="spacing" stroke="#fff" stroke-width="0.08">0.7</text>
<rect x="2028.4" y="981.0" width="23.8" height="23.8" fill="#97a8f8"/>
<rect x="2028.8" y="975.8" width="28.4" height="28.4" fill="none" stroke="#fff" stroke-width="1.8" stroke-dasharray="3.6 3.5" stroke-dashoffset="1.8"/>
<text x="2036.7" y="965.9" font-family='"Liberation Sans", sans-serif' font-size="17.0" font-weight="400" textLength="20.7" lengthAdjust="spacing" stroke="#fff" stroke-width="0.08">0.7</text>
<text x="1317.1" y="1034.8" font-family='"Liberation Sans", sans-serif' font-size="16.4" font-weight="400" textLength="77.5" lengthAdjust="spacing" stroke="#fff" stroke-width="0.35">Blockchain</text>
<text x="1449.1" y="1034.8" font-family='"Liberation Sans", sans-serif' font-size="16.4" font-weight="400" textLength="41.0" lengthAdjust="spacing" stroke="#fff" stroke-width="0.35">Cloud</text>
<text x="1431.8" y="1057.0" font-family='"Liberation Sans", sans-serif' font-size="16.4" font-weight="400" textLength="75.2" lengthAdjust="spacing" stroke="#fff" stroke-width="0.35">computing</text>
<text x="1540.1" y="1034.8" font-family='"Liberation Sans", sans-serif' font-size="16.4" font-weight="400" textLength="86.6" lengthAdjust="spacing" stroke="#fff" stroke-width="0.35">Stakeholder</text>
<text x="1537.1" y="1057.0" font-family='"Liberation Sans", sans-serif' font-size="16.4" font-weight="400" textLength="92.6" lengthAdjust="spacing" stroke="#fff" stroke-width="0.35">management</text>
<text x="1686.8" y="1034.8" font-family='"Liberation Sans", sans-serif' font-size="16.4" font-weight="400" textLength="30.9" lengthAdjust="spacing" stroke="#fff" stroke-width="0.35">Risk</text>
<text x="1674.4" y="1057.0" font-family='"Liberation Sans", sans-serif' font-size="16.4" font-weight="400" textLength="55.7" lengthAdjust="spacing" stroke="#fff" stroke-width="0.35">analysis</text>
<text x="1777.1" y="1034.8" font-family='"Liberation Sans", sans-serif' font-size="16.4" font-weight="400" textLength="77.1" lengthAdjust="spacing" stroke="#fff" stroke-width="0.35">Regulatory</text>
<text x="1775.2" y="1057.0" font-family='"Liberation Sans", sans-serif' font-size="16.4" font-weight="400" textLength="80.9" lengthAdjust="spacing" stroke="#fff" stroke-width="0.35">compliance</text>
<text x="1905.8" y="1034.8" font-family='"Liberation Sans", sans-serif' font-size="16.4" font-weight="400" textLength="52.6" lengthAdjust="spacing" stroke="#fff" stroke-width="0.35">Fintech</text>
<text x="2005.8" y="1034.8" font-family='"Liberation Sans", sans-serif' font-size="16.4" font-weight="400" textLength="79.8" lengthAdjust="spacing" stroke="#fff" stroke-width="0.35">Accounting</text>
</g>
</svg>
</body></html>
